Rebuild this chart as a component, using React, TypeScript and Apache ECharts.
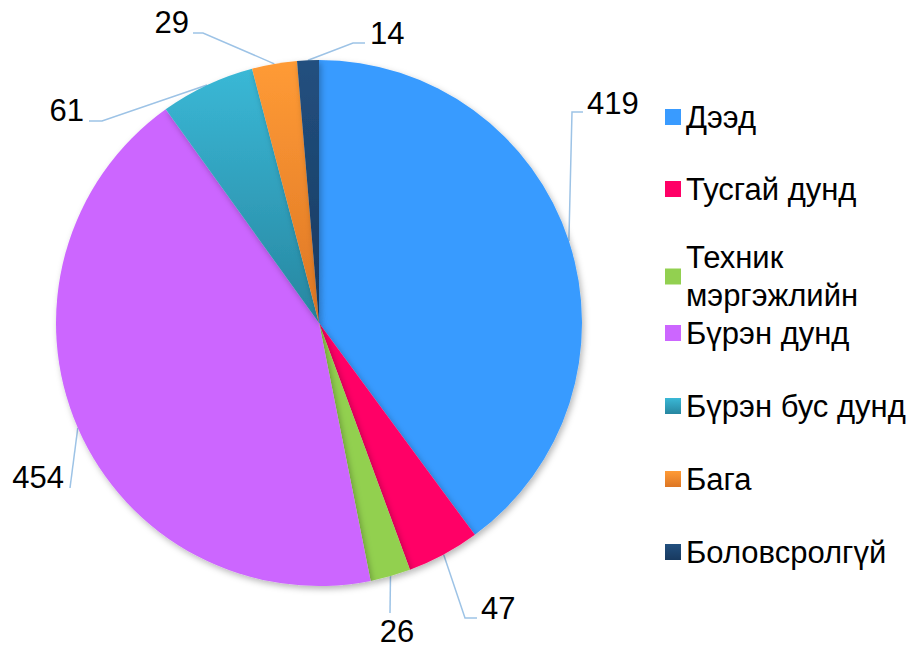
import React, { useEffect, useRef } from "react";
import * as echarts from "echarts";

// ---- data ----
const categories = [
  "Дээд",
  "Тусгай дунд",
  "Техник мэргэжлийн",
  "Бүрэн дунд",
  "Бүрэн бус дунд",
  "Бага",
  "Боловсролгүй",
];
const values = [419, 47, 26, 454, 61, 29, 14];

// ---- styles / layout ----
const FONT = "'Liberation Sans', Arial, sans-serif";
const solid = ["#399BFF", "#FF0066", "#92D050", "#CC66FF"];
const grad = (a: string, b: string) => ({
  type: "linear",
  x: 0,
  y: 0,
  x2: 0,
  y2: 1,
  colorStops: [
    { offset: 0, color: a },
    { offset: 1, color: b },
  ],
});
const colors: any[] = [
  ...solid,
  grad("#3AB8D6", "#2786A0"),
  grad("#FF9B36", "#DD7624"),
  grad("#22507F", "#18395F"),
];

// label placement (text anchor, align, line end, bend)
const LABEL_LAYOUT = [
  { x: 587, y: 103, align: "left", bend: [572, 112], end: [583, 112] },
  { x: 481, y: 608, align: "left", bend: [465, 618], end: [477, 618] },
  { x: 397, y: 631, align: "center", bend: [390, 613], end: [390, 613] },
  { x: 64, y: 477, align: "right", bend: [70, 488], end: [70, 488] },
  { x: 84, y: 110, align: "right", bend: [102, 121], end: [89, 121] },
  { x: 189, y: 22, align: "right", bend: [203, 33], end: [193, 33] },
  { x: 370, y: 33, align: "left", bend: [353, 43], end: [365, 43] },
];

const CENTER = [319, 323];
const RADIUS = 263;
const LEGEND_FONT = 31;
const LEGEND_LH = 38;

export default function App() {
  const ref = useRef<HTMLDivElement>(null);
  useEffect(() => {
    if (!ref.current) return;
    const chart = echarts.init(ref.current, null, { renderer: "svg" });
    const total = values.reduce((a, b) => a + b, 0);
    const anchorFor = (i: number) => {
      let before = 0;
      for (let k = 0; k < i; k++) before += values[k];
      const ang = ((before + values[i] / 2) / total) * Math.PI * 2;
      return [CENTER[0] + RADIUS * Math.sin(ang), CENTER[1] - RADIUS * Math.cos(ang)];
    };
    const legendText = {
      color: "#000",
      fontSize: LEGEND_FONT,
      fontFamily: FONT,
      lineHeight: LEGEND_LH,
    };
    const legendItem = (name: string) =>
      name === "Техник мэргэжлийн"
        ? {
            name,
            textStyle: {
              ...legendText,
              verticalAlign: "top",
              padding: [-LEGEND_LH / 2, 0, 0, 0],
            },
          }
        : { name };
    const option: any = {
      animation: false,
      backgroundColor: "#fff",
      color: colors,
      legend: [
        {
          orient: "vertical",
          left: 660,
          top: 93,
          itemWidth: 16,
          itemHeight: 16,
          itemGap: 34,
          icon: "rect",
          selectedMode: false,
          textStyle: legendText,
          formatter: (n: string) => (n === "Техник мэргэжлийн" ? "Техник\nмэргэжлийн" : n),
          data: categories.slice(0, 3).map(legendItem),
        },
        {
          orient: "vertical",
          left: 660,
          top: 309,
          itemWidth: 16,
          itemHeight: 16,
          itemGap: 35,
          icon: "rect",
          selectedMode: false,
          textStyle: legendText,
          data: categories.slice(3),
        },
      ],
      series: [
        {
          type: "pie",
          center: CENTER,
          radius: RADIUS,
          startAngle: 90,
          clockwise: true,
          avoidLabelOverlap: false,
          data: categories.map((name, i) => ({ name, value: values[i] })),
          itemStyle: {
            shadowBlur: 6,
            shadowOffsetX: 2,
            shadowOffsetY: 3,
            shadowColor: "rgba(0,0,0,0.28)",
          },
          label: {
            show: true,
            position: "outside",
            formatter: "{c}",
            color: "#000",
            fontSize: 31,
            fontFamily: FONT,
          },
          labelLine: {
            show: true,
            length: 20,
            length2: 10,
            lineStyle: { color: "#9DC3E6", width: 1.5 },
          },
          labelLayout: (params: any) => {
            const L = LABEL_LAYOUT[params.dataIndex];
            const a =
              params.labelLinePoints && params.labelLinePoints[0]
                ? params.labelLinePoints[0]
                : anchorFor(params.dataIndex);
            return {
              x: L.x,
              y: L.y,
              align: L.align,
              verticalAlign: "middle",
              labelLinePoints: [a, L.bend, L.end],
            };
          },
        },
      ],
    };
    chart.setOption(option);
    return () => chart.dispose();
  }, []);
  return (
    <div
      ref={ref}
      style={{ position: "fixed", left: 0, top: 0, width: 910, height: 649 }}
    />
  );
}
